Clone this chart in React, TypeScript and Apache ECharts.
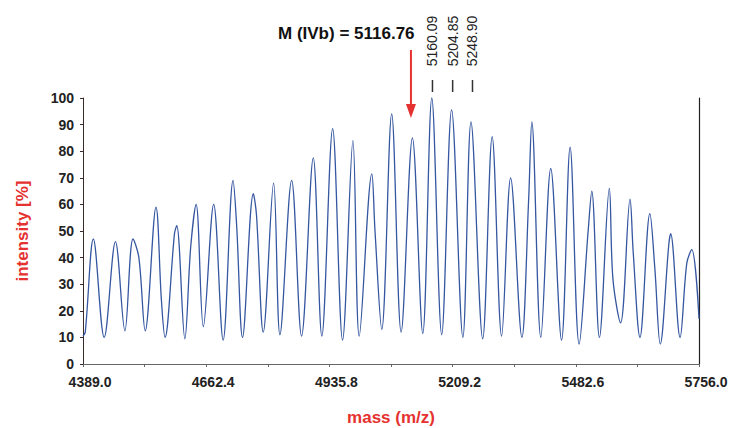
import React, { useEffect, useRef } from "react";
import * as echarts from "echarts";

// Spectrum trace: valleys, peaks and visible shoulders
const traceMass: number[] = [
  4389, 4394, 4412, 4436, 4461, 4482, 4500, 4513, 4527, 4551,
  4563, 4571, 4592, 4597, 4615, 4628, 4640, 4656, 4679, 4700,
  4722, 4730, 4743, 4767, 4774, 4789, 4812, 4826, 4852, 4874,
  4900, 4919, 4943, 4965, 4988, 5002, 5030, 5037, 5052, 5074,
  5095, 5120, 5143, 5163, 5185, 5207, 5232, 5250, 5276, 5297,
  5318, 5338, 5363, 5378, 5385, 5405, 5427, 5451, 5470, 5490,
  5510, 5518, 5535, 5557, 5565, 5582, 5603, 5610, 5625, 5647,
  5658, 5670, 5689, 5693, 5714, 5729, 5740, 5756,
];
const traceIntensity: number[] = [
  10.5, 12, 47, 10, 46, 12.5, 47, 40, 12.5, 59,
  24, 10, 49, 52, 9.5, 44, 60, 14, 60, 9,
  69, 52, 10, 64, 56, 12, 68, 11, 69, 10.5,
  77.5, 10.5, 88.5, 9, 84, 10.5, 71.5, 50, 13, 94,
  12, 85, 11.5, 100, 11, 95.5, 10, 91, 9.5, 85.5,
  10.5, 70, 10, 62, 91, 10, 73.5, 9, 81.5, 7.5,
  50, 65, 10, 66, 32, 15.5, 62, 42, 10, 56.5,
  36, 7.5, 45, 49, 10, 38, 43, 17,
];

const xTickValues: number[] = [4389.0, 4662.4, 4935.8, 5209.2, 5482.6, 5756.0];
const xMinorTickValues: number[] = [
  4389.0, 4525.7, 4662.4, 4799.1, 4935.8, 5072.5, 5209.2, 5345.9, 5482.6, 5619.3, 5756.0,
];
const peakLabels: string[] = ["5160.09", "5204.85", "5248.90"];
const peakLabelMasses: number[] = [5160.09, 5204.85, 5248.9];
const annotationText = "M (IVb) = 5116.76";
const annotationMass = 5116.76;

const FONT = '"Liberation Sans", Arial, sans-serif';
const RED = "#e5312f";

export default function App() {
  const ref = useRef<HTMLDivElement>(null);

  useEffect(() => {
    const chart = echarts.init(ref.current!, null, { renderer: "svg" });
    const data = traceMass.map((m, i) => [m, traceIntensity[i]]);
    chart.setOption({
      animation: false,
      backgroundColor: "#ffffff",
      grid: { left: 83, right: 31, top: 98, bottom: 64, outerBoundsMode: "none", containLabel: false },
      xAxis: {
        type: "value",
        min: 4389,
        max: 5756,
        name: "mass (m/z)",
        nameLocation: "middle",
        nameGap: 45,
        nameTextStyle: { color: RED, fontSize: 17, fontWeight: "bold", fontFamily: FONT },
        axisLine: { show: true, lineStyle: { color: "#666", width: 1 } },
        axisTick: {
          show: true,
          customValues: xMinorTickValues,
          length: 3,
          lineStyle: { color: "#666" },
        },
        axisLabel: {
          customValues: xTickValues,
          formatter: (v: number) => v.toFixed(1),
          color: "#222",
          fontSize: 14,
          fontWeight: "bold",
          fontFamily: FONT,
          margin: 11,
          padding: [0, 0, 0, 14],
        },
        splitLine: { show: false },
      },
      yAxis: [
        {
          type: "value",
          min: 0,
          max: 100,
          interval: 10,
          name: "intensity [%]",
          nameLocation: "middle",
          nameGap: 52,
          nameRotate: 90,
          nameTextStyle: { color: RED, fontSize: 17, fontWeight: "bold", fontFamily: FONT },
          axisLine: { show: true, lineStyle: { color: "#3a2a2a", width: 1 } },
          axisTick: { show: true, length: 3, lineStyle: { color: "#3a2a2a" } },
          axisLabel: {
            color: "#222",
            fontSize: 14,
            fontWeight: "bold",
            fontFamily: FONT,
            margin: 9,
          },
          splitLine: { show: false },
        },
        {
          type: "value",
          min: 0,
          max: 100,
          position: "right",
          axisLine: { show: true, lineStyle: { color: "#222", width: 1.2 } },
          axisTick: { show: false },
          axisLabel: { show: false },
          splitLine: { show: false },
        },
      ],
      series: [
        {
          type: "line",
          data,
          showSymbol: false,
          smooth: 0.35,
          lineStyle: { color: "#3556a0", width: 1.3 },
        },
      ],
    });

    const toX = (m: number) => chart.convertToPixel({ xAxisIndex: 0 }, m) as number;
    const arrowX = toX(annotationMass);
    const graphic: any[] = [
      {
        type: "text",
        x: 278,
        y: 33,
        style: {
          text: annotationText,
          font: `bold 17px ${FONT}`,
          fill: "#111",
          align: "left",
          verticalAlign: "middle",
        },
      },
      {
        type: "line",
        shape: { x1: arrowX, y1: 50, x2: arrowX, y2: 106 },
        style: { stroke: RED, lineWidth: 2 },
      },
      {
        type: "polygon",
        shape: {
          points: [
            [arrowX - 5, 104],
            [arrowX + 5, 104],
            [arrowX, 118],
          ],
        },
        style: { fill: RED },
      },
    ];
    peakLabelMasses.forEach((m, i) => {
      const px = toX(m) + 2;
      graphic.push({
        type: "text",
        x: px,
        y: 41,
        rotation: Math.PI / 2,
        style: {
          text: peakLabels[i],
          font: `14px ${FONT}`,
          fill: "#222",
          align: "center",
          verticalAlign: "middle",
        },
      });
      graphic.push({
        type: "line",
        shape: { x1: px, y1: 80, x2: px, y2: 92 },
        style: { stroke: "#333", lineWidth: 1.5 },
      });
    });
    chart.setOption({ graphic });

    return () => chart.dispose();
  }, []);

  return (
    <div
      ref={ref}
      style={{ position: "fixed", left: 0, top: 0, width: 730, height: 428 }}
    />
  );
}
